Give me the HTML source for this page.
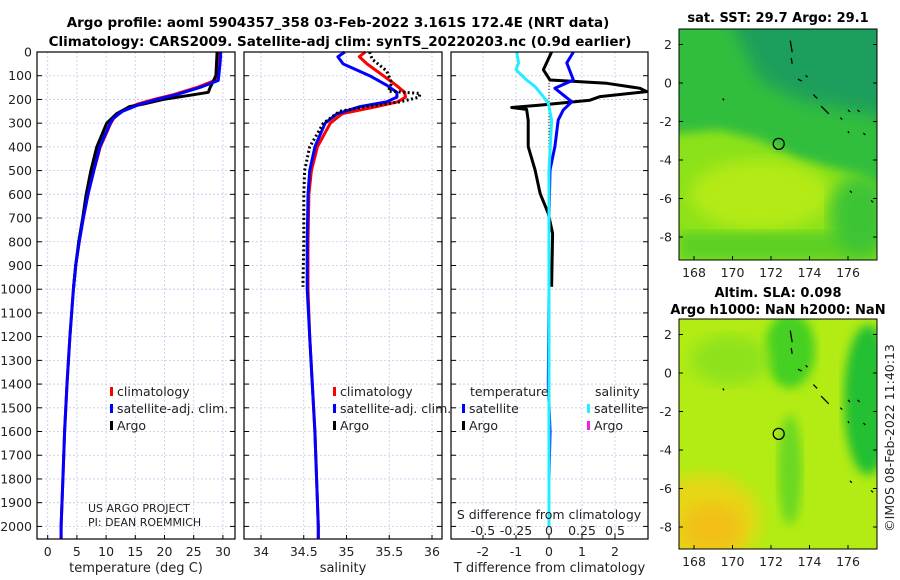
<!DOCTYPE html>
<html><head><meta charset="utf-8">
<style>
html,body{margin:0;padding:0;background:#fff;}
svg{display:block;font-family:"DejaVu Sans","Liberation Sans",sans-serif;}
</style></head>
<body>
<svg id="chart" width="900" height="580" viewBox="0 0 900 580" xmlns="http://www.w3.org/2000/svg">
<defs>
<filter id="blur8"><feGaussianBlur stdDeviation="8"/></filter>
<filter id="blur5"><feGaussianBlur stdDeviation="5"/></filter>
<clipPath id="clipMap1"><rect x="679" y="29" width="198" height="231"/></clipPath>
<clipPath id="clipMap2"><rect x="679" y="319" width="198" height="230"/></clipPath>
</defs>
<g id="titles" font-weight="bold" font-size="13.5" text-anchor="middle" fill="#000">
<text x="338" y="27">Argo profile: aoml 5904357_358 03-Feb-2022 3.161S 172.4E (NRT data)</text>
<text x="340" y="46">Climatology: CARS2009. Satellite-adj clim: synTS_20220203.nc (0.9d earlier)</text>
</g>
<g id="grids"></g>
<g id="series"></g>
<g id="axes"></g>
<g id="maps"></g>
</svg>
<script>
// ---- data ----
const depthTicks = [0,100,200,300,400,500,600,700,800,900,1000,1100,1200,1300,1400,1500,1600,1700,1800,1900,2000];
const tempTicks = [0,5,10,15,20,25,30];
const salTicks = [34,34.5,35,35.5,36];
const salTickLabels = ['34','34.5','35','35.5','36'];
const tdiffTicks = [-2,-1,0,1,2];
const sdiffTicks = [-0.5,-0.25,0,0.25,0.5];
const sdiffTickLabels = ['-0.5','-0.25','0','0.25','0.5'];

const climDepth = [0,20,50,100,120,150,180,200,220,250,280,300,400,500,600,700,800,900,1000,1200,1400,1600,1800,2000,2055];
const climTemp  = [29.3,29.3,29.2,29.0,28.6,25.5,21.5,18.2,15.3,12.6,11.3,10.8,9.0,7.9,6.9,6.1,5.4,4.8,4.4,3.8,3.3,2.9,2.6,2.3,2.3];
const satTemp   = [29.6,29.6,29.5,29.3,29.2,26.0,22.0,18.7,15.8,12.8,11.2,10.7,8.9,7.9,6.9,6.1,5.4,4.8,4.4,3.8,3.3,2.9,2.6,2.3,2.3];
const argoTDepth = [0,50,100,150,170,180,200,220,230,240,260,300,400,500,600,700,800,900,1000];
const argoTemp   = [29.0,28.9,28.8,27.8,27.5,25.0,19.8,16.3,14.0,13.3,11.8,10.1,8.4,7.4,6.6,6.0,5.3,4.8,4.4];

const salDepth = [0,20,50,100,140,170,190,210,230,260,300,400,500,600,800,1000,1200,1400,1600,1800,2000,2055];
const climSal  = [35.22,35.15,35.24,35.43,35.58,35.68,35.69,35.6,35.35,34.95,34.81,34.66,34.59,34.56,34.55,34.55,34.57,34.6,34.63,34.65,34.67,34.67];
const satSal   = [34.98,34.9,34.96,35.27,35.47,35.59,35.59,35.47,35.16,34.89,34.75,34.63,34.57,34.55,34.54,34.54,34.57,34.6,34.63,34.65,34.67,34.67];
const argoSDepth = [0,30,80,130,165,175,190,210,230,250,300,400,500,600,800,990];
const argoSal    = [35.27,35.3,35.47,35.53,35.49,35.86,35.85,35.63,35.24,34.92,34.73,34.57,34.51,34.5,34.5,34.49];

const tdDepth = [0,75,118,132,153,167,188,203,224,234,242,287,399,498,596,681,765,990];
const argoTdiff = [0.08,-0.17,0.03,1.75,2.76,2.96,1.55,1.24,-0.27,-1.13,-0.68,-0.63,-0.63,-0.42,-0.27,-0.02,0.11,0.08];
const satTdDepth = [0,46,118,153,181,210,245,287,399,498,700,1000,1400,1600,1800,2000];
const satTdiff   = [0.74,0.54,0.74,0.18,0.43,0.69,0.43,0.28,0.18,0.03,0.0,0.0,-0.02,0.03,0.0,0.0];
const sdDepth = [0,46,75,118,146,188,216,287,500,1000,1500,2000];
const satSdiff = [-0.245,-0.23,-0.25,-0.17,-0.106,-0.043,-0.005,0.02,0.0,0.0,0.0,0.0];

const mapLonTicks = [168,170,172,174,176];
const mapLatTicks = [2,0,-2,-4,-6,-8];
const argoLon = 172.4, argoLat = -3.161;

// ---- scales ----
const Y0 = 52, YB = 539;
const yD = d => Y0 + d*0.2372;
const xT = t => 47.7 + t*5.84;
const xS = s => 261 + (s-34)*85.5;
const xTd = t => 549 + t*33;
const xSd = s => 549 + s*132;
const NS = 'http://www.w3.org/2000/svg';
function mk(tag, attrs, parent, text){
  const e = document.createElementNS(NS, tag);
  for (const k in attrs) e.setAttribute(k, attrs[k]);
  if (text !== undefined) e.textContent = text;
  parent.appendChild(e);
  return e;
}
const G = document.getElementById('grids');
const S = document.getElementById('series');
const A = document.getElementById('axes');
const M = document.getElementById('maps');

const panels = [
  {x0:37,x1:235,ticks:tempTicks,labels:tempTicks.map(String),sc:xT,label:'temperature (deg C)',name:'temperature'},
  {x0:244,x1:442,ticks:salTicks,labels:salTickLabels,sc:xS,label:'salinity',name:'salinity'},
  {x0:451,x1:648,ticks:tdiffTicks,labels:tdiffTicks.map(String),sc:xTd,label:'T difference from climatology',name:'difference'}
];
panels.forEach((p,pi)=>{
  // grid
  depthTicks.forEach(d=>{
    const l = mk('line',{x1:p.x0,x2:p.x1,y1:yD(d),y2:yD(d),stroke:'#c4c8ec','stroke-width':0.8,'stroke-dasharray':'2,2'},G);
    
    
  });
  p.ticks.forEach(t=>{
    const l = mk('line',{x1:p.sc(t),x2:p.sc(t),y1:Y0,y2:YB,stroke:'#c4c8ec','stroke-width':0.8,'stroke-dasharray':'2,2'},G);
    
    
    const tk = mk('line',{x1:p.sc(t),x2:p.sc(t),y1:YB,y2:YB-4,stroke:'#000','stroke-width':1},A);
    
    
    const tx = mk('text',{x:p.sc(t),y:556,'font-size':12.5,'text-anchor':'middle',fill:'#222'},A,p.labels[p.ticks.indexOf(t)]);
    
    
  });
  depthTicks.forEach(d=>{
    const a = mk('line',{x1:p.x0,x2:p.x0+5,y1:yD(d),y2:yD(d),stroke:'#000'},A);
    
    
    const b = mk('line',{x1:p.x1-5,x2:p.x1,y1:yD(d),y2:yD(d),stroke:'#000'},A);
    
    
  });
  const fr = mk('rect',{x:p.x0,y:Y0,width:p.x1-p.x0,height:YB-Y0,fill:'none',stroke:'#000','stroke-width':1.2},A);
  
  
  const xl = mk('text',{x:(p.x0+p.x1)/2,y:572,'font-size':13,'text-anchor':'middle',fill:'#222'},A,p.label);
  
  
});
depthTicks.forEach(d=>{
  const t = mk('text',{x:32,y:yD(d)+4.5,'font-size':12.5,'text-anchor':'end',fill:'#222'},A,String(d));
  
  
});

function line(ds, vs, sc, color, w, name, dash){
  const pts = ds.map((d,i)=>sc(vs[i]).toFixed(1)+','+yD(d).toFixed(1)).join(' ');
  const a = {points:pts,fill:'none',stroke:color,'stroke-width':w,'stroke-linejoin':'round'};
  if (dash) a['stroke-dasharray'] = dash;
  const e = mk('polyline',a,S);
  
  
}
// panel 1
line(climDepth, climTemp, xT, '#f00', 3, 'temp-climatology-line');
line(argoTDepth, argoTemp, xT, '#000', 3, 'temp-argo-line');
line(climDepth, satTemp, xT, '#00f', 3, 'temp-satellite-line');
// panel 2
line(salDepth, climSal, xS, '#f00', 3, 'sal-climatology-line');
line(salDepth, satSal, xS, '#00f', 3, 'sal-satellite-line');
line(argoSDepth, argoSal, xS, '#000', 3, 'sal-argo-line', '2,2.5');
// panel 3
const zl = mk('line',{x1:xTd(0),x2:xTd(0),y1:yD(130),y2:yD(460),stroke:'#000','stroke-width':1,'stroke-dasharray':'1,2'},S);


line(tdDepth, argoTdiff, xTd, '#000', 3, 'tdiff-argo-line');
line(satTdDepth, satTdiff, xTd, '#00f', 3, 'tdiff-satellite-line');
line(sdDepth, satSdiff, xSd, '#22eeff', 3, 'sdiff-satellite-line');
// S diff axis
const sdt = mk('text',{x:549,y:519,'font-size':12.5,'text-anchor':'middle',fill:'#222'},A,'S difference from climatology');


sdiffTicks.forEach((s,i)=>{
  const t = mk('text',{x:xSd(s),y:535,'font-size':12.5,'text-anchor':'middle',fill:'#222'},A,sdiffTickLabels[i]);
  
  
});

// legends
function legend(x, y, color, label, name){
  const r = mk('rect',{x:x,y:y-8,width:3,height:9,fill:color},A);
  
  
  const t = mk('text',{x:x+7,y:y+1,'font-size':12.5,fill:'#222'},A,label);
  
  
}
legend(110,395,'#f00','climatology','legend-t-climatology');
legend(110,412,'#00f','satellite-adj. clim.','legend-t-satellite');
legend(110,429,'#000','Argo','legend-t-argo');
legend(333,395,'#f00','climatology','legend-s-climatology');
legend(333,412,'#00f','satellite-adj. clim.','legend-s-satellite');
legend(333,429,'#000','Argo','legend-s-argo');
legend(462,412,'#00f','satellite','legend-d-t-satellite');
legend(462,429,'#000','Argo','legend-d-t-argo');
legend(587,412,'#22eeff','satellite','legend-d-s-satellite');
legend(587,429,'#ee22dd','Argo','legend-d-s-argo');
const lt1 = mk('text',{x:470,y:396,'font-size':12.5,fill:'#222'},A,'temperature');


const lt2 = mk('text',{x:595,y:396,'font-size':12.5,fill:'#222'},A,'salinity');


const pr1 = mk('text',{x:88,y:512,'font-size':11,fill:'#222'},A,'US ARGO PROJECT');


const pr2 = mk('text',{x:88,y:526,'font-size':11,fill:'#222'},A,'PI: DEAN ROEMMICH');



// ---- maps ----
function mapAxes(x0,y0,w,h,lat0y,latStep,name){
  const lonX = lon => 694 + (lon-168)*19.25;
  const latY = lat => lat0y - lat*latStep;
  mapLonTicks.forEach(l=>{
    const tk = mk('line',{x1:lonX(l),x2:lonX(l),y1:y0+h,y2:y0+h-4,stroke:'#000'},M);
    
    
    const t = mk('text',{x:lonX(l),y:y0+h+17,'font-size':12.5,'text-anchor':'middle',fill:'#222'},M,String(l));
    
    
  });
  mapLatTicks.forEach(l=>{
    const tk = mk('line',{x1:x0,x2:x0+4,y1:latY(l),y2:latY(l),stroke:'#000'},M);
    
    
    const tk2 = mk('line',{x1:x0+w-4,x2:x0+w,y1:latY(l),y2:latY(l),stroke:'#000'},M);
    
    
    const t = mk('text',{x:x0-7,y:latY(l)+4.5,'font-size':12.5,'text-anchor':'end',fill:'#222'},M,String(l));
    
    
  });
  const fr = mk('rect',{x:x0,y:y0,width:w,height:h,fill:'none',stroke:'#000','stroke-width':1},M);
  
  
  const c = mk('circle',{cx:lonX(argoLon),cy:latY(argoLat),r:5.5,fill:'none',stroke:'#000','stroke-width':1.3},M);
  
  
  // islands
  const isl = [[173,2.2,173.1,1.6],[173.05,1.3,173.1,1.0],[173.4,0.2,173.6,0.1],[173.8,0.4,173.9,0.3],[174.2,-0.6,174.4,-0.8],[174.6,-1.2,175.0,-1.6],[175.6,-1.8,175.7,-1.9],[176.0,-1.4,176.1,-1.5],[176.5,-1.4,176.6,-1.5],[176.1,-5.6,176.2,-5.7],[177.2,-6.1,177.3,-6.2],[169.5,-0.8,169.55,-0.9],[176.0,-2.5,176.05,-2.6],[176.8,-2.6,176.9,-2.7]];
  isl.forEach(s=>{
    const e = mk('line',{x1:lonX(s[0]),y1:latY(s[1]),x2:lonX(s[2]),y2:latY(s[3]),stroke:'#000','stroke-width':1.3},M);
    
    
  });
}
// map 1 fill
const g1 = mk('g',{'clip-path':'url(#clipMap1)'},M);


mk('rect',{x:679,y:29,width:198,height:231,fill:'#8ce21a'},g1);
mk('polygon',{points:'660,0 900,0 900,200 860,175 800,160 760,140 720,130 660,135',fill:'#33be3e',filter:'url(#blur5)'},g1);
mk('polygon',{points:'720,0 900,0 900,120 850,110 800,100 760,80 740,40',fill:'#1e9f5c',filter:'url(#blur8)'},g1);
mk('ellipse',{cx:760,cy:195,rx:70,ry:35,fill:'#b4ea18',filter:'url(#blur8)'},g1);
mk('rect',{x:679,y:232,width:198,height:28,fill:'#52cc28',filter:'url(#blur5)',opacity:0.8},g1);
mk('ellipse',{cx:860,cy:215,rx:30,ry:40,fill:'#3ec434',filter:'url(#blur8)'},g1);
mapAxes(679,29,198,231,83,19.25,'sst-map');
// map 2 fill
const g2 = mk('g',{'clip-path':'url(#clipMap2)'},M);


mk('rect',{x:679,y:319,width:198,height:230,fill:'#b2ec14'},g2);
mk('ellipse',{cx:705,cy:520,rx:55,ry:45,fill:'#e6d616',filter:'url(#blur8)'},g2);
mk('ellipse',{cx:712,cy:528,rx:30,ry:25,fill:'#f2c012',filter:'url(#blur8)'},g2);
mk('ellipse',{cx:790,cy:350,rx:25,ry:38,fill:'#44d020',filter:'url(#blur5)'},g2);
mk('ellipse',{cx:790,cy:470,rx:12,ry:55,fill:'#6ad822',filter:'url(#blur5)'},g2);
mk('ellipse',{cx:868,cy:400,rx:24,ry:75,fill:'#22c030',filter:'url(#blur5)'},g2);
mk('ellipse',{cx:730,cy:360,rx:40,ry:25,fill:'#8ee21c',filter:'url(#blur8)'},g2);
mapAxes(679,319,198,230,373,19.25,'sla-map');
const mt1 = mk('text',{x:778,y:22,'font-size':13,'font-weight':'bold','text-anchor':'middle',fill:'#000'},M,'sat. SST: 29.7 Argo: 29.1');


const mt2 = mk('text',{x:778,y:297,'font-size':13,'font-weight':'bold','text-anchor':'middle',fill:'#000'},M,'Altim. SLA: 0.098');


const mt3 = mk('text',{x:778,y:314,'font-size':13,'font-weight':'bold','text-anchor':'middle',fill:'#000'},M,'Argo h1000: NaN h2000: NaN');


const cp = mk('text',{x:0,y:0,'font-size':12.5,'text-anchor':'middle',fill:'#222',transform:'translate(894,438) rotate(-90)'},M,'©IMOS 08-Feb-2022 11:40:13');


</script>
</body></html>
